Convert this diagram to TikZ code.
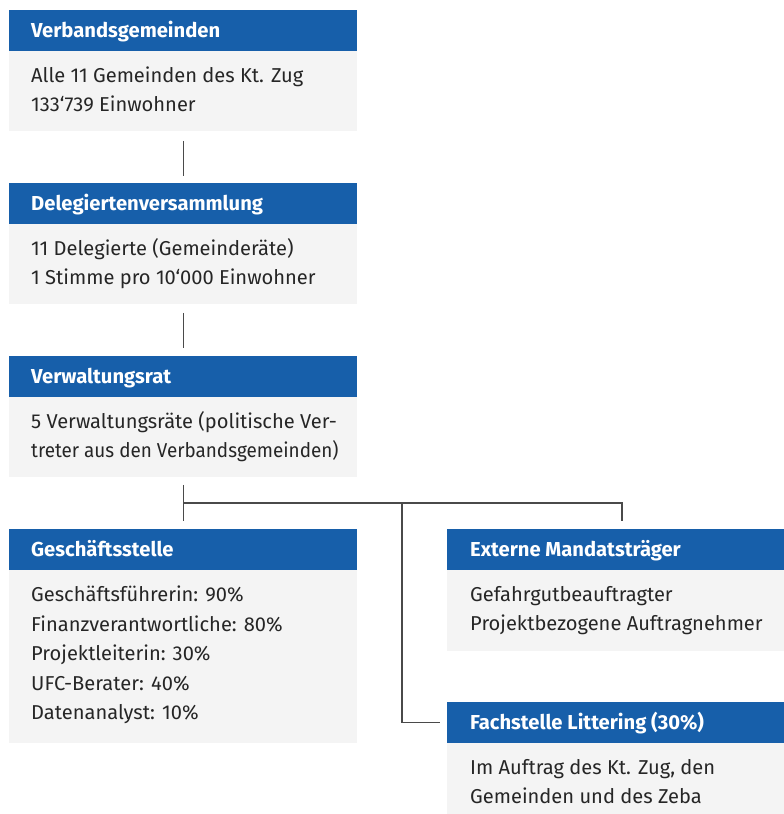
\documentclass[tikz,border=0pt]{standalone}
\usepackage{fontspec}
\setmainfont{Fira Sans}
\definecolor{hdr}{HTML}{175FAA}
\definecolor{bod}{HTML}{F4F4F4}
\definecolor{lnc}{HTML}{4A4A4A}
\tikzset{
  hdrbox/.style={fill=hdr, draw=none, inner sep=0, anchor=north west, minimum height=40.5},
  bodbox/.style={fill=bod, draw=none, inner sep=0, anchor=north west},
  hdrtxt/.style={anchor=base west, inner sep=0, text=white, font=\fontsize{20.2}{22}\selectfont\bfseries},
  bodtxt/.style={anchor=base west, inner sep=0, text=black!85, font=\fontsize{20.1}{22}\selectfont},
  conn/.style={draw=lnc, line width=1.2}
}
\begin{document}
\begin{tikzpicture}[x=1pt,y=-1pt]
\useasboundingbox (0,0) rectangle (784,814);
% Box 1
\node[hdrbox, minimum width=348] (h1) at (9,10) {};
\node[bodbox, minimum width=348, minimum height=80] (b1) at (9,50.5) {};
\node[hdrtxt] (t1) at (31,37) {Verbandsgemeinden};
\node[bodtxt] (t1a) at (31,82.5) {Alle 11 Gemeinden des Kt. Zug};
\node[bodtxt] (t1b) at (31,111) {133‘739 Einwohner};
% Box 2
\node[hdrbox, minimum width=348] (h2) at (9,183) {};
\node[bodbox, minimum width=348, minimum height=80] (b2) at (9,223.5) {};
\node[hdrtxt] (t2) at (31,210) {Delegiertenversammlung};
\node[bodtxt] (t2a) at (31,255.5) {11 Delegierte (Gemeinderäte)};
\node[bodtxt] (t2b) at (31,284) {1 Stimme pro 10‘000 Einwohner};
% Box 3
\node[hdrbox, minimum width=348] (h3) at (9,356) {};
\node[bodbox, minimum width=348, minimum height=80] (b3) at (9,396.5) {};
\node[hdrtxt] (t3) at (31,383) {Verwaltungsrat};
\node[bodtxt] (t3a) at (31,428.5) {5 Verwaltungsräte (politische Ver-};
\node[bodtxt] (t3b) at (31,457) {\scalebox{0.94}[1]{treter aus den Verbandsgemeinden)}};
% Box 4
\node[hdrbox, minimum width=348] (h4) at (9,529) {};
\node[bodbox, minimum width=348, minimum height=173] (b4) at (9,569.5) {};
\node[hdrtxt] (t4) at (31,556) {Geschäftsstelle};
\node[bodtxt] (t4a) at (31,601.5) {Geschäftsführerin: 90\%};
\node[bodtxt] (t4b) at (31,631) {Finanzverantwortliche: 80\%};
\node[bodtxt] (t4c) at (31,660.5) {Projektleiterin: 30\%};
\node[bodtxt] (t4d) at (31,690) {UFC-Berater: 40\%};
\node[bodtxt] (t4e) at (31,719.5) {Datenanalyst: 10\%};
% Box 5
\node[hdrbox, minimum width=337] (h5) at (447,529) {};
\node[bodbox, minimum width=337, minimum height=81] (b5) at (447,569.5) {};
\node[hdrtxt] (t5) at (470,556) {Externe Mandatsträger};
\node[bodtxt] (t5a) at (470,601.5) {Gefahrgutbeauftragter};
\node[bodtxt] (t5b) at (470,630) {Projektbezogene Auftragnehmer};
% Box 6
\node[hdrbox, minimum width=337] (h6) at (447,702) {};
\node[bodbox, minimum width=337, minimum height=71] (b6) at (447,742.5) {};
\node[hdrtxt] (t6) at (470,729) {Fachstelle Littering (30\%)};
\node[bodtxt] (t6a) at (470,774.5) {Im Auftrag des Kt. Zug, den};
\node[bodtxt] (t6b) at (470,803) {Gemeinden und des Zeba};
% Connectors
\draw[conn] ([yshift=-10pt]b1.south) -- ([yshift=7pt]h2.north);
\draw[conn] ([yshift=-9pt]b2.south) -- ([yshift=8pt]h3.north);
\coordinate (j) at (183,503);
\coordinate (jm) at (402,503);
\coordinate (jr) at (622,503);
\draw[conn] ([yshift=-8pt]b3.south) -- ([yshift=8pt]h4.north);
\draw[conn] (j) -- (jr) -- ([yshift=8pt]h5.north -| jr);
\draw[conn] (jm) |- ([xshift=-7pt]h6.west);
\end{tikzpicture}
\end{document}
